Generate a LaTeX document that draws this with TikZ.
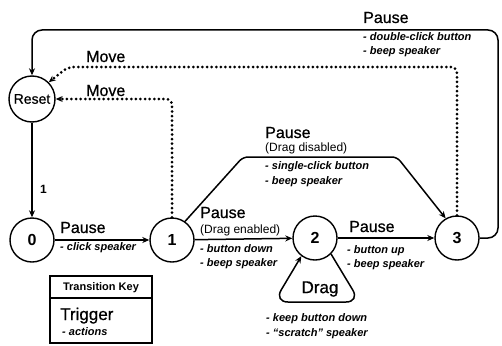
\documentclass[tikz,border=0pt]{standalone}
\usepackage{fontspec}
\setmainfont{Liberation Sans}
\newfontfamily\labfont[FakeBold=0.7]{Liberation Sans}
\usetikzlibrary{arrows.meta}
\begin{document}
\begin{tikzpicture}[x=1pt,y=-1pt,
  state/.style={circle,draw,line width=1.4pt,minimum size=44pt,inner sep=0pt,
    font=\fontsize{16}{16}\selectfont\bfseries},
  trans/.style={line width=1.5pt,-{Stealth[length=7pt,width=6pt]}},
  move/.style={line width=3pt,line cap=round,dash pattern=on 0pt off 4.6pt,
    -{Stealth[length=7pt,width=6pt,line cap=butt,line width=0pt]}},
  trig/.style={anchor=base west,inner sep=0pt,font=\labfont\fontsize{16}{16}\selectfont},
  sub/.style={anchor=base west,inner sep=0pt,font=\fontsize{12}{12}\selectfont},
  act/.style={anchor=base west,inner sep=0pt,
    font=\fontsize{11}{11}\selectfont\bfseries\itshape}]
\useasboundingbox (0,0) rectangle (502,345);

% states
\node[state,minimum size=46pt,font=\labfont\fontsize{14}{14}\selectfont] (R) at (32,99) {Reset};
\node[state] (s0) at (32,240) {0};
\node[state] (s1) at (172,240) {1};
\node[state] (s2) at (315,238) {2};
\node[state] (s3) at (457,238) {3};

% transitions
\draw[trans] (R) -- node[pos=0.7,right=4pt,font=\fontsize{12}{12}\selectfont\bfseries] (one) {1} (s0);
\draw[trans] (s0) -- (s1);
\draw[trans] (s1) -- (s2);
\draw[trans] (s2) -- (s3);
\draw[trans,rounded corners=5pt] (s1.55) -- (243,157) -- (397,157) -- (s3.120);
\draw[trans,rounded corners=10pt] (s3.east) -| (498,30) -| (R.north);
\draw[trans,rounded corners=14pt] (s2.-45) -- (360,302) -- (274,302) -- (s2.-127);
\draw[move,rounded corners=6pt] (s1.north) |- (R.east);
\draw[move,rounded corners=6pt] (s3.north) |- (68,67) -- (R.45);

% labels: 0 -> 1
\node[trig] (p01) at (60,233) {Pause};
\node[act] (a01) at (60,250) {- click speaker};
% labels: 1 -> 2
\node[trig] (p12) at (200,218) {Pause};
\node[sub] (d12) at (200,233) {(Drag enabled)};
\node[act] (a12a) at (200,252) {- button down};
\node[act] (a12b) at (200,266) {- beep speaker};
% labels: 2 -> 3
\node[trig] (p23) at (349,232) {Pause};
\node[act] (a23a) at (347,253) {- button up};
\node[act] (a23b) at (347,267) {- beep speaker};
% labels: 1 -> 3
\node[trig] (p13) at (265,138) {Pause};
\node[sub] (d13) at (265,151) {(Drag disabled)};
\node[act] (a13a) at (265,169) {- single-click button};
\node[act] (a13b) at (265,184) {- beep speaker};
% labels: 3 -> Reset
\node[trig] (p3r) at (363,23) {Pause};
\node[act] (a3ra) at (363,41) {- double-click button};
\node[act] (a3rb) at (363,55) {- beep speaker};
% move labels
\node[trig] (m3) at (86,62) {Move};
\node[trig] (m1) at (86,96) {Move};
% drag loop
\node[font=\labfont\fontsize{17}{17}\selectfont] (drag) at (320,289) {Drag};
\node[act] (adraga) at (266,321) {- keep button down};
\node[act] (adragb) at (266,336) {- ``scratch'' speaker};

% key
\draw[line width=1.3pt] (50,276) rectangle (152,343);
\draw[line width=1.3pt] (50,298) -- (152,298);
\node[font=\fontsize{11}{11}\selectfont\bfseries] (keyt) at (101,287.5) {Transition Key};
\node[trig,font=\labfont\fontsize{17}{17}\selectfont] (keyg) at (60,320) {Trigger};
\node[act] (keya) at (62,335) {- actions};
\end{tikzpicture}
\end{document}
